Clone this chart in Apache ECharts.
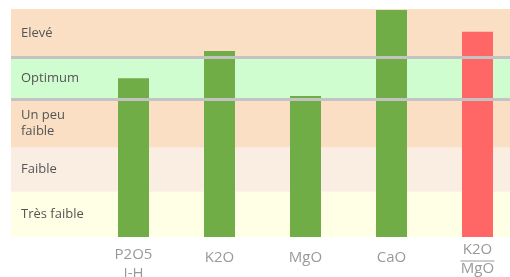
<!DOCTYPE html>
<html>
<head>
<meta charset="utf-8">
<script src="https://cdn.jsdelivr.net/npm/echarts@6/dist/echarts.min.js"></script>
<style>
  html, body { margin: 0; padding: 0; background: #fff; }
  #chart { width: 510px; height: 277px; }
</style>
</head>
<body>
<div id="chart"></div>
<script>
// categories and values (levels 0..5)
var categories = ["P2O5\nI-H", "K2O", "MgO", "CaO", "K2O/MgO"];
var values = [3.48, 4.08, 3.09, 4.98, 4.5];
var barColors = ["#70ad47", "#70ad47", "#70ad47", "#70ad47", "#ff6666"];

// background bands (bottom to top)
var bandNames = ["Très faible", "Faible", "Un peu\nfaible", "Optimum", "Elevé"];
var bandEdges = [0, 0.99, 1.96, 3.03, 3.94, 5];
var bandColors = ["#ffffe6", "#faeee3", "#fadfc5", "#cffdcf", "#fadfc5"];
var optimumLines = [3.03, 3.94];

var font = "'Open Sans', sans-serif";
var labelGray = "#999";

var chart = echarts.init(document.getElementById("chart"));

var bandAreas = bandNames.map(function (name, i) {
  return [
    { yAxis: bandEdges[i], name: name, itemStyle: { color: bandColors[i] } },
    { yAxis: bandEdges[i + 1] }
  ];
});

function axisLabelText(val) {
  if (val.indexOf("/") > 0) {
    var parts = val.split("/");
    return "{n|" + parts[0] + "}\n{l|}\n{d|" + parts[1] + "}";
  }
  if (val.indexOf("\n") > 0) {
    var lines = val.split("\n");
    return "{t|" + lines[0] + "}\n{b|" + lines[1] + "}";
  }
  return "{s|" + val + "}";
}

var txt = { color: labelGray, fontFamily: font, fontSize: 15 };

var option = {
  animation: false,
  grid: [
    { left: 11, right: 0, top: 9, bottom: 40, outerBoundsMode: "none" },
    { left: 90.5, width: 430, top: 9, bottom: 40, outerBoundsMode: "none" }
  ],
  xAxis: [
    { gridIndex: 0, type: "value", min: 0, max: 1, show: false },
    {
      gridIndex: 1,
      type: "category",
      data: categories,
      axisLine: { show: false },
      axisTick: { show: false },
      axisLabel: {
        margin: 21,
        verticalAlign: "middle",
        interval: 0,
        formatter: axisLabelText,
        rich: {
          s: Object.assign({ lineHeight: 19 }, txt),
          t: Object.assign({ lineHeight: 31 }, txt),
          b: Object.assign({ lineHeight: 7 }, txt),
          n: Object.assign({ lineHeight: 18 }, txt),
          l: { width: 34, height: 1, lineHeight: 4, backgroundColor: labelGray },
          d: Object.assign({ lineHeight: 12 }, txt)
        }
      }
    }
  ],
  yAxis: [
    { gridIndex: 0, type: "value", min: 0, max: 5, show: false },
    { gridIndex: 1, type: "value", min: 0, max: 5, show: false }
  ],
  series: [
    {
      type: "line",
      xAxisIndex: 0,
      yAxisIndex: 0,
      data: [],
      z: 1,
      silent: true,
      markArea: {
        silent: true,
        label: {
          show: true,
          position: "insideLeft",
          distance: 10,
          color: "#555",
          fontFamily: font,
          fontSize: 13,
          lineHeight: 16
        },
        data: bandAreas
      },
      markLine: {
        silent: true,
        symbol: "none",
        label: { show: false },
        lineStyle: { color: "#c3c3c3", width: 3, type: "solid" },
        data: optimumLines.map(function (v) { return { yAxis: v }; })
      }
    },
    {
      type: "bar",
      xAxisIndex: 1,
      yAxisIndex: 1,
      barWidth: 31,
      z: 3,
      data: values.map(function (v, i) {
        return { value: v, itemStyle: { color: barColors[i] } };
      })
    }
  ]
};

chart.setOption(option);
</script>
</body>
</html>
